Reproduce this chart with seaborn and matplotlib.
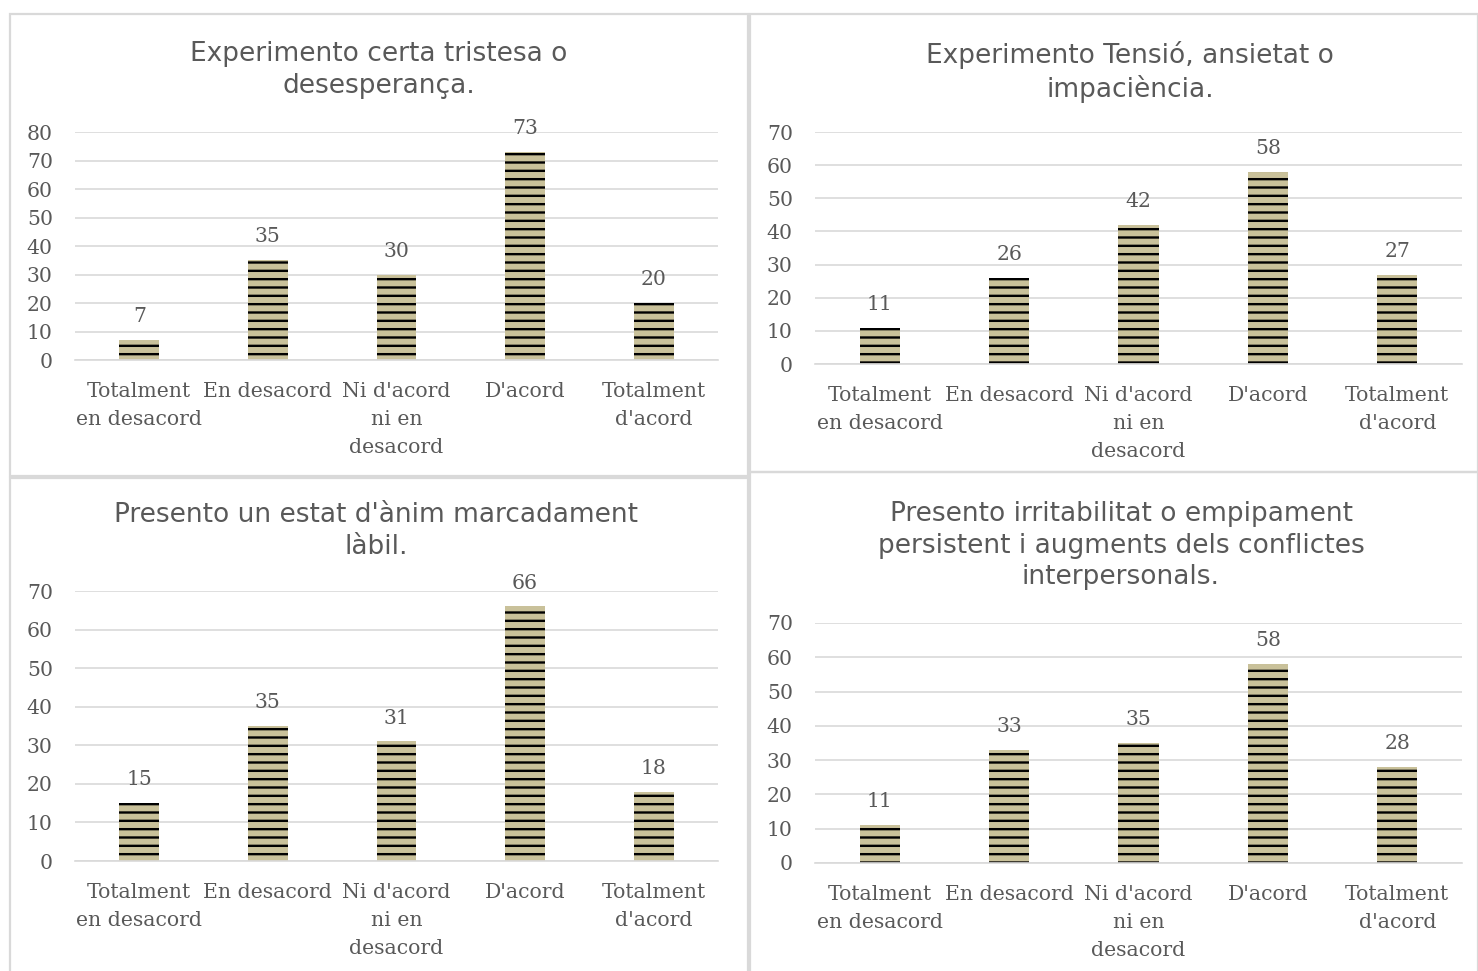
import seaborn as sns
import pandas as pd
import matplotlib.pyplot as plt
from matplotlib.patches import Rectangle

categories = ["Totalment\nen desacord", "En desacord", "Ni d'acord\nni en\ndesacord",
              "D'acord", "Totalment\nd'acord"]

tristesa = [7, 35, 30, 73, 20]
tensio = [11, 26, 42, 58, 27]
anim = [15, 35, 31, 66, 18]
irritabilitat = [11, 33, 35, 58, 28]

titles = [
    "Experimento certa tristesa o\ndesesperança.",
    "Experimento Tensió, ansietat o\nimpaciència.",
    "Presento un estat d'ànim marcadament\nlàbil.",
    "Presento irritabilitat o empipament\npersistent i augments dels conflictes\ninterpersonals.",
]

sns.set_theme(style="white")
plt.rcParams["hatch.linewidth"] = 1.7
plt.rcParams["hatch.color"] = "black"

W, H = 1478, 971
fig = plt.figure(figsize=(W / 100, H / 100), dpi=100)

GREY = "#595959"
GRID = "#d9d9d9"


def px_axes(left, top, right, bottom):
    return fig.add_axes([left / W, 1 - bottom / H, (right - left) / W, (bottom - top) / H])


def frame(left, top, right, bottom):
    fig.patches.append(Rectangle((left / W, 1 - bottom / H), (right - left) / W, (bottom - top) / H,
                                 transform=fig.transFigure, fill=False, edgecolor=GRID, lw=1.6))


panels = [
    # values, title, axes box (l, t, r, b), ymax, frame box, title (x, y)
    (tristesa, titles[0], (75, 132, 718, 360), 80, (10, 14, 748, 476), (379, 41)),
    (tensio, titles[1], (815, 132, 1462, 364), 70, (750, 14, 1478, 472), (1130, 41)),
    (anim, titles[2], (75, 591, 718, 861), 70, (10, 478, 748, 975), (376, 502)),
    (irritabilitat, titles[3], (815, 623, 1462, 863), 70, (750, 472, 1478, 975), (1121, 501)),
]

for vals, title, box, ymax, fbox, tpos in panels:
    frame(*fbox)
    ax = px_axes(*box)
    df = pd.DataFrame({"categoria": categories, "valor": vals})
    sns.barplot(data=df, x="categoria", y="valor", color="#c9c19a", width=0.31,
                saturation=1, ax=ax)
    for p in ax.patches:
        p.set_hatch("--")
        p.set_edgecolor("black")
        p.set_linewidth(0)
    ax.set_ylim(0, ymax)
    ax.set_yticks(range(0, ymax + 1, 10))
    ax.yaxis.grid(True, color=GRID, lw=1.2)
    ax.set_axisbelow(True)
    for s in ["left", "right", "top"]:
        ax.spines[s].set_visible(False)
    ax.spines["bottom"].set_color(GRID)
    ax.spines["bottom"].set_linewidth(1.2)
    ax.set_xlabel("")
    ax.set_ylabel("")
    ax.tick_params(axis="x", length=0, pad=16, labelsize=14.7, labelcolor=GREY)
    ax.tick_params(axis="y", length=0, pad=16, labelsize=14.7, labelcolor=GREY)
    for lab in ax.get_xticklabels() + ax.get_yticklabels():
        lab.set_fontfamily("DejaVu Serif")
    for lab in ax.get_xticklabels():
        lab.set_verticalalignment("top")
        lab.set_linespacing(1.58)
    ax.bar_label(ax.containers[0], padding=10, fontsize=14.7, color=GREY, family="DejaVu Serif")
    fig.text(tpos[0] / W, 1 - tpos[1] / H, title, ha="center", va="top", fontsize=19,
             color=GREY, family="DejaVu Sans", linespacing=1.28)

fig.savefig("out.png", dpi=100)
